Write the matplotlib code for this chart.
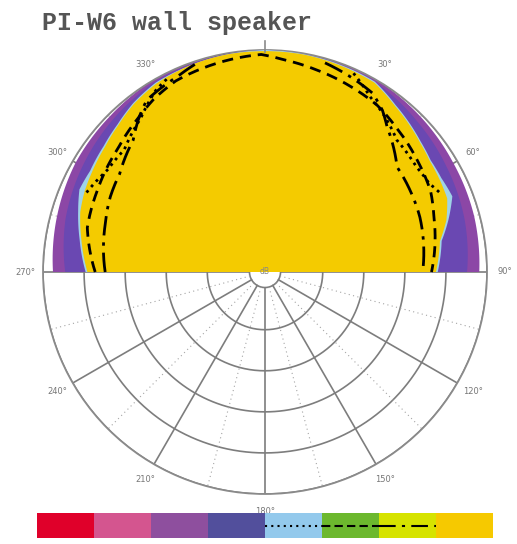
import numpy as np
from matplotlib import pyplot as plt

# --- data (angle in degrees, clockwise from top; radius 1 = outer ring)
yellow_ang = [-90, -80, -72, -66, -60, -52, -45, -38, -30, -20, -10, 0, 10, 20, 30, 38, 44, 50, 56, 62, 68, 74, 80, 90]
yellow_r = [0.80, 0.84, 0.875, 0.89, 0.90, 0.915, 0.935, 0.96, 0.98, 0.99, 0.995, 0.995, 0.995, 0.99, 0.985,
            0.95, 0.93, 0.91, 0.895, 0.89, 0.885, 0.85, 0.80, 0.77]

blue_ang = [-90, -80, -72, -66, -60, -52, -45, -38, -30, 0, 30, 38, 44, 50, 56, 62, 68, 74, 80, 90]
blue_r = [0.808, 0.848, 0.885, 0.915, 0.91, 0.922, 0.94, 0.965, 0.985, 1.0, 0.99, 0.955, 0.935, 0.915, 0.9, 0.9,
          0.91, 0.86, 0.808, 0.778]

indigo_ang = [-90, -75, -60, -45, -30, 0, 30, 45, 60, 75, 90]
indigo_r = [0.90, 0.93, 0.95, 0.97, 0.99, 1.0, 0.99, 0.965, 0.945, 0.93, 0.91]

violet_ang = [-90, -75, -60, -45, -30, 0, 30, 45, 60, 75, 90]
violet_r = [0.955, 0.97, 0.985, 0.99, 1.0, 1.0, 1.0, 0.99, 0.98, 0.975, 0.965]

dashed_ang = [-90, -76, -64, -50, -39, -33, -25, -13, -1, 5, 14, 25, 34, 42, 54, 64, 72, 90]
dashed_r = [0.765, 0.825, 0.84, 0.865, 0.90, 0.925, 0.95, 0.965, 0.98, 0.96, 0.94, 0.92, 0.905, 0.88, 0.85,
            0.83, 0.80, 0.75]

dashdot_ang = [-90, -74, -64, -56, -45, -39, -34.5, -24, -18, 16, 23.5, 31, 36, 40, 51.5, 60.5, 70.5, 90]
dashdot_r = [0.72, 0.75, 0.775, 0.79, 0.84, 0.90, 0.94, 0.965, 0.99, 0.98, 0.96, 0.94, 0.90, 0.855, 0.76,
             0.75, 0.74, 0.71]

dotted_ang = [-66, -57, -49, -39, -31, -26, 24, 31, 36.6, 45, 55, 61.6, 66.5]
dotted_r = [0.88, 0.845, 0.84, 0.89, 0.955, 0.98, 0.98, 0.92, 0.89, 0.84, 0.83, 0.84, 0.87]

ring_r = [0.07, 0.26, 0.445, 0.63, 0.815, 1.0]
angle_labels = ['30°', '60°', '90°', '120°', '150°', '180°', '210°', '240°', '270°', '300°', '330°']
label_ang = [30, 60, 90, 120, 150, 180, 210, 240, 270, 300, 330]

level_colors = ['#e0002a', '#d4558f', '#8e4f9e', '#524f9c', '#93c9ec', '#6cb82e', '#d6e300', '#f6c900']

fig = plt.figure(figsize=(5.17, 5.44), dpi=100)
ax = fig.add_axes([0.0832, 0.0919, 0.8588, 0.8162], projection='polar')
ax.set_theta_zero_location('N')
ax.set_theta_direction(-1)
ax.set_ylim(0, 1)
ax.set_xticks([])
ax.set_yticks([])
ax.grid(False)
ax.spines['polar'].set_color('#8a8a8a')
ax.spines['polar'].set_linewidth(1.3)

grid_col = '#7d7d7d'
# rings and spokes
th = np.linspace(0, 2 * np.pi, 361)
for r in ring_r:
    ax.plot(th, [r] * len(th), color=grid_col, lw=1.2, zorder=1)
for a in range(0, 360, 30):
    ax.plot([np.radians(a)] * 2, [ring_r[0], 1], color=grid_col, lw=1.2, zorder=1)
for a in range(15, 360, 30):
    ax.plot([np.radians(a)] * 2, [ring_r[0], 1], color='#a5a5a5', lw=0.8, ls=(0, (1, 3)), zorder=1)


def layer(ang, r, color, z):
    t = np.radians(ang)
    tt = np.concatenate([t, [t[-1], t[0]]])
    rr = np.concatenate([r, [0, 0]])
    poly = ax.fill(tt, rr, color=color, lw=0, zorder=z)[0]
    # let the polar transform bend the edges between the read points
    poly.get_path()._interpolation_steps = 60


def curve(ang, r, ls):
    line, = ax.plot(np.radians(ang), r, color='k', lw=2.0, ls=ls, zorder=7)
    line.get_path()._interpolation_steps = 30


layer(violet_ang, violet_r, '#8c47a6', 2)
layer(indigo_ang, indigo_r, '#6a48b2', 3)
layer(blue_ang, blue_r, '#9fd3e6', 4)
layer(yellow_ang, yellow_r, '#f4cb00', 5)

dash = (0, (4, 2.5))
dashdot = (0, (7, 2.5, 1.2, 2.5))
dots = (0, (1, 1.6))
curve(dashed_ang, dashed_r, dash)
curve(dashdot_ang[:9], dashdot_r[:9], dashdot)
curve(dashdot_ang[9:], dashdot_r[9:], dashdot)
curve(dotted_ang[:6], dotted_r[:6], dots)
curve(dotted_ang[6:], dotted_r[6:], dots)

# top tick
ax.plot([0, 0], [0.99, 1.04], color='#8a8a8a', lw=1.2, clip_on=False, zorder=8)

for a, lab in zip(label_ang, angle_labels):
    ax.text(np.radians(a), 1.08, lab, fontsize=6, color='#777777', ha='center', va='center')
ax.text(0, 0.0, 'dB', fontsize=5.5, color='#888888', ha='center', va='center', zorder=9)

fig.text(42 / 517, 1 - 23 / 544, 'PI-W6 wall speaker', fontsize=18, fontfamily='Liberation Mono',
         fontweight='bold', color='#555555', ha='left', va='center')

# colour scale with the curve keys
cax = fig.add_axes([37 / 517, 6 / 544, 456 / 517, 25 / 544])
cax.bar(np.arange(len(level_colors)) + 0.5, [1] * len(level_colors), width=1.0, color=level_colors)
cax.plot([4.0, 5.0], [0.5, 0.5], color='k', lw=1.5, ls=(0, (1, 2)))
cax.plot([5.0, 6.0], [0.5, 0.5], color='k', lw=1.5, ls=(0, (4, 2)))
cax.plot([6.0, 7.0], [0.5, 0.5], color='k', lw=1.5, ls=(0, (8, 3, 1.5, 3)))
cax.set_xlim(0, len(level_colors))
cax.set_ylim(0, 1)
cax.axis('off')

fig.savefig('out.png', dpi=100)
